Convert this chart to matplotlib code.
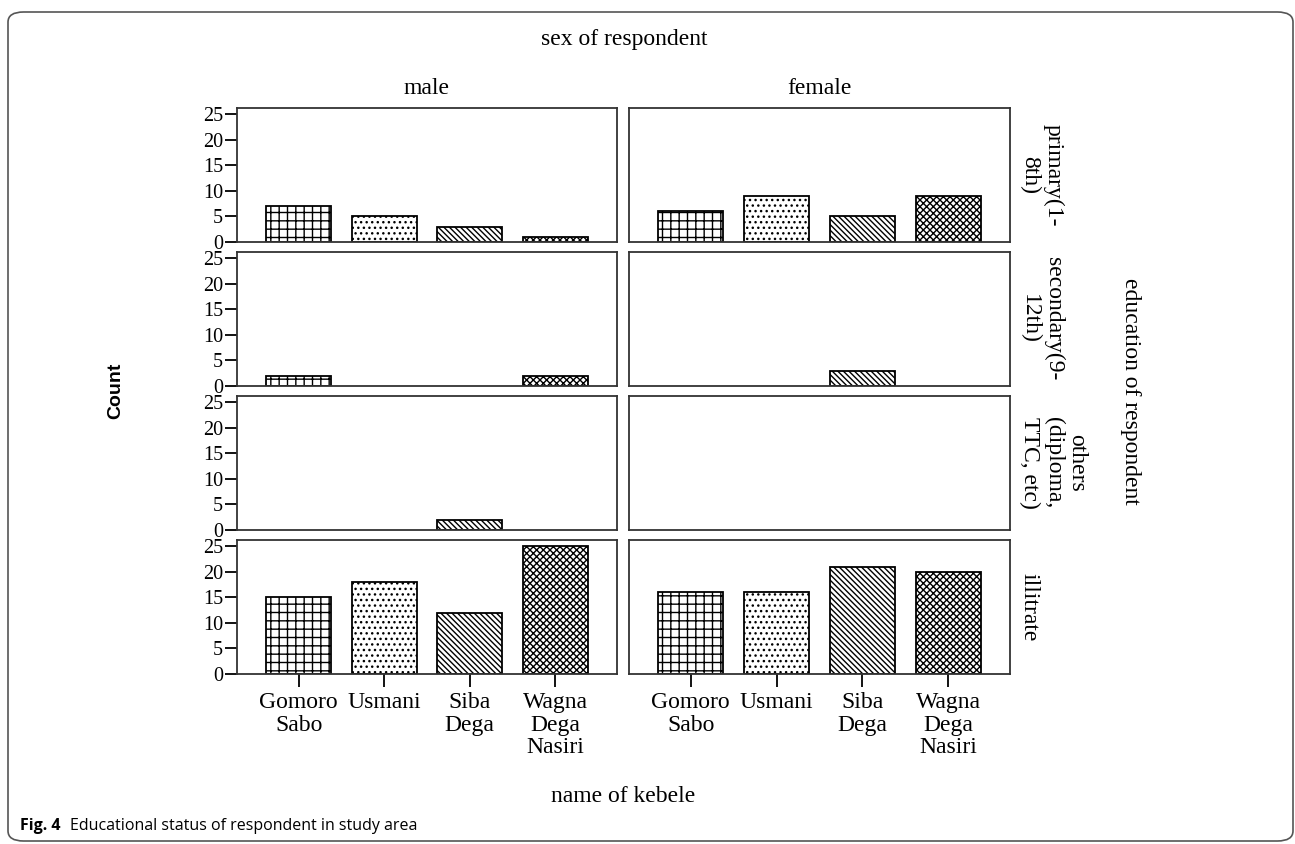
import numpy as np
import matplotlib
matplotlib.use("Agg")
import matplotlib.pyplot as plt
from matplotlib.patches import FancyBboxPatch

# data
kebele = ["Gomoro\nSabo", "Usmani", "Siba\nDega", "Wagna\nDega\nNasiri"]
education = ["primary(1-\n8th)", "secondary(9-\n12th)", "others\n(diploma,\nTTC, etc)", "illitrate"]
sexes = ["male", "female"]
male_counts = [[7, 5, 3, 1],
               [2, 0, 0, 2],
               [0, 0, 2, 0],
               [15, 18, 12, 25]]
female_counts = [[6, 9, 5, 9],
                 [0, 0, 3, 0],
                 [0, 0, 0, 0],
                 [16, 16, 21, 20]]
hatches = ["++", "...", "\\\\\\\\\\\\", "xxxxx"]
yticks = [0, 5, 10, 15, 20, 25]

W, H = 1295, 844
plt.rcParams['hatch.linewidth'] = 1.0
plt.rcParams['font.family'] = ['Liberation Serif', 'DejaVu Serif']

fig = plt.figure(figsize=(W / 100, H / 100), dpi=100)

def px_box(x0, x1, y0, y1):
    # pixel box (top-left origin) -> figure fraction rect
    return [x0 / W, 1 - y1 / H, (x1 - x0) / W, (y1 - y0) / H]

col_px = [(237, 617), (629, 1010)]
row_px = [(108, 242), (252, 386), (396, 530), (540, 674)]
counts = [male_counts, female_counts]
xpos = np.arange(len(kebele))

for c in range(2):
    for r in range(4):
        ax = fig.add_axes(px_box(col_px[c][0], col_px[c][1], row_px[r][0], row_px[r][1]))
        vals = counts[c][r]
        for i, v in enumerate(vals):
            if v > 0:
                ax.bar(xpos[i], v, width=0.76, color='white', edgecolor='black',
                       linewidth=1.3, hatch=hatches[i])
        ax.set_xlim(-0.72, 3.72)
        ax.set_ylim(0, 26.2)
        for s in ax.spines.values():
            s.set_linewidth(1.3)
            s.set_color('#333333')
        if c == 0:
            ax.set_yticks(yticks)
            ax.tick_params(axis='y', length=9, width=1.3, pad=1, labelsize=14.5)
        else:
            ax.set_yticks([])
        if r == 3:
            ax.set_xticks(xpos)
            ax.set_xticklabels(kebele, fontsize=17, linespacing=1.1)
            ax.tick_params(axis='x', length=9, width=1.3, pad=4)
        else:
            ax.set_xticks([])

def ftext(x, y, s, **kw):
    fig.text(x / W, 1 - y / H, s, **kw)

ftext(624, 40, "sex of respondent", ha='center', va='center', fontsize=17)
for c in range(2):
    ftext(sum(col_px[c]) / 2, 88, sexes[c], ha='center', va='center', fontsize=17)
for r in range(4):
    ftext(1019, sum(row_px[r]) / 2, education[r], ha='left', va='center',
          rotation=270, multialignment='center', fontsize=17, linespacing=1.15)
ftext(1131, 391, "education of respondent", ha='center', va='center',
      rotation=270, fontsize=17)
ftext(623, 797, "name of kebele", ha='center', va='center', fontsize=17)
ftext(116, 391, "Count", ha='center', va='center', rotation=90, fontsize=14,
      fontweight='bold', family=['Liberation Sans', 'DejaVu Sans'])

ftext(20, 826, "Fig. 4", ha='left', va='center', fontsize=11.5, fontweight='bold',
      family=['Open Sans', 'DejaVu Sans'])
ftext(70, 826, "Educational status of respondent in study area", ha='left',
      va='center', fontsize=11.5, family=['Open Sans', 'DejaVu Sans'])

frame = FancyBboxPatch((8 / W, 1 - 841 / H), (1293 - 8) / W, (841 - 12) / H,
                       boxstyle="round,pad=0,rounding_size=0.012",
                       transform=fig.transFigure, fill=False,
                       edgecolor='#555555', linewidth=1.2)
fig.patches.append(frame)

fig.savefig("out.png", dpi=100)
